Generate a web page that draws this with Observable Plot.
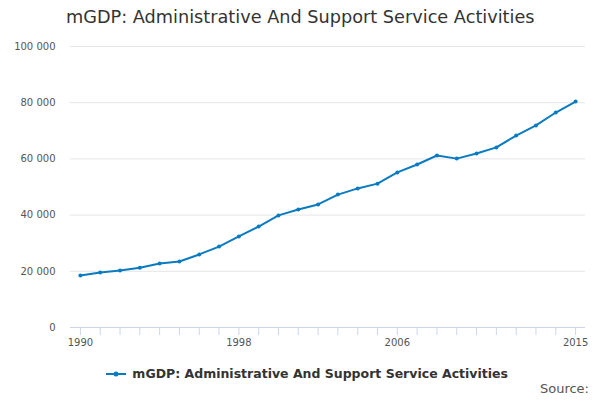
<!DOCTYPE html>
<html><head><meta charset="utf-8">
<script src="https://cdn.jsdelivr.net/npm/d3@7"></script>
<script src="https://cdn.jsdelivr.net/npm/@observablehq/plot@0.6"></script>
<style>
body{margin:0;font-family:"DejaVu Sans",sans-serif;background:#fff;}
#t{position:absolute;left:66px;top:7px;font-size:17.7px;color:#333;}
#c{position:absolute;left:0;top:36px;}
#l{position:absolute;left:106px;top:366px;font-size:12.5px;font-weight:bold;color:#333;display:flex;align-items:center;}
#s{position:absolute;right:11px;top:381px;font-size:13px;color:#555;}
</style></head><body>
<div id="t">mGDP: Administrative And Support Service Activities</div>
<div id="c"></div>
<div id="l"><svg width="22" height="10"><line x1="0" x2="20" y1="5" y2="5" stroke="#0a7bc1" stroke-width="2"/><circle cx="10" cy="5" r="2.5" fill="#0a7bc1"/></svg>&nbsp;mGDP: Administrative And Support Service Activities</div>
<div id="s">Source:</div>
<script>
const years = d3.range(1990, 2016);
const values = [18500,19600,20300,21300,22800,23500,26000,28800,32400,35900,39900,42000,43800,47300,49500,51200,55200,58000,61200,60100,61900,64100,68300,71900,76500,80400];
const yTicks = [0,20000,40000,60000,80000,100000];
const xLabels = [1990,1998,2006,2015];
const data = years.map((y,i)=>({year:y,value:values[i]}));
const fmt = d => d3.format(",")(d).replace(/,/g," ");
const chart = Plot.plot({
  width:600, height:316, marginTop:10, marginBottom:25, marginLeft:70, marginRight:15,
  style:{fontFamily:"DejaVu Sans",fontSize:"10px",color:"#555"},
  x:{domain:[1989.5,2015.5]},
  y:{domain:[0,100000]},
  marks:[
    Plot.gridY(yTicks,{stroke:"#e6e6e6",strokeOpacity:1}),
    Plot.axisY(yTicks,{tickFormat:fmt,tickSize:0,tickPadding:15,label:null}),
    Plot.ruleY([0],{stroke:"#ccd6eb"}),
    Plot.axisX(years,{tickSize:8,stroke:"#ccd6eb",tickFormat:d=>xLabels.includes(d)?String(d):"",label:null,tickPadding:3}),
    Plot.line(data,{x:"year",y:"value",stroke:"#0a7bc1",strokeWidth:2}),
    Plot.dot(data,{x:"year",y:"value",fill:"#0a7bc1",r:2})
  ]
});
document.getElementById("c").appendChild(chart);
</script></body></html>
